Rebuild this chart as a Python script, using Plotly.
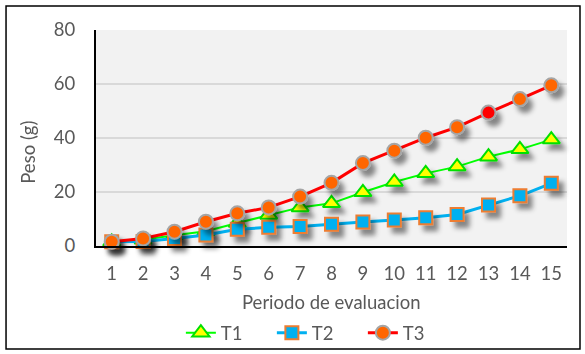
import plotly.graph_objects as go

periods = list(range(1, 16))
t1 = [1.5, 2.3, 4.0, 5.5, 8.5, 11.5, 14.3, 15.8, 19.9, 23.7, 26.9, 29.4, 33.1, 35.8, 39.4]
t2 = [1.6, 1.7, 2.8, 4.1, 6.2, 6.9, 7.2, 8.1, 8.9, 9.6, 10.5, 11.7, 15.2, 18.6, 23.2]
t3 = [1.6, 2.8, 5.3, 9.0, 12.1, 14.3, 18.3, 23.4, 30.7, 35.3, 40.1, 44.0, 49.4, 54.4, 59.5]
y_ticks = [0, 20, 40, 60, 80]

FONT = "Lato"
GREY = "#595959"
FS = 18.5

t3_colors = ["#FF6600"] * len(t3)
t3_colors[12] = "#FF0000"

fig = go.Figure()
fig.add_trace(go.Scatter(
    x=periods, y=t1, name="T1", mode="lines+markers",
    line=dict(color="#00FF00", width=2),
    marker=dict(symbol="triangle-up", size=15, color="#FFFF00",
                line=dict(color="#00E000", width=2)),
    cliponaxis=False))
fig.add_trace(go.Scatter(
    x=periods, y=t2, name="T2", mode="lines+markers",
    line=dict(color="#00B0F0", width=3),
    marker=dict(symbol="square", size=13, color="#00B0F0",
                line=dict(color="#ED7D31", width=2)),
    cliponaxis=False))
fig.add_trace(go.Scatter(
    x=periods, y=t3, name="T3", mode="lines+markers",
    line=dict(color="#FF0000", width=3),
    marker=dict(symbol="circle", size=14, color=t3_colors,
                line=dict(color="#A5A5A5", width=2)),
    cliponaxis=False))

fig.update_layout(
    width=585, height=354,
    margin=dict(l=96, r=18, t=30, b=108, autoexpand=False),
    paper_bgcolor="white", plot_bgcolor="#F2F2F2",
    font=dict(family=FONT, size=FS, color=GREY),
    showlegend=True,
    legend=dict(orientation="h", x=0.47, xanchor="center",
                yref="container", y=0.059, yanchor="middle",
                font=dict(size=FS, color=GREY), bgcolor="rgba(0,0,0,0)",
                entrywidth=46, tracegroupgap=0),
)
fig.update_xaxes(
    type="linear", range=[0.5, 15.5], tickmode="array", tickvals=periods,
    ticktext=[str(p) for p in periods],
    showgrid=False, zeroline=False, showline=True, linecolor="black", linewidth=2,
    ticks="", ticklabelstandoff=10, tickfont=dict(size=FS, color=GREY))
fig.update_yaxes(
    range=[0, 80], tickmode="array", tickvals=y_ticks,
    showgrid=True, gridcolor="#D9D9D9", gridwidth=1.5, zeroline=False,
    showline=True, linecolor="black", linewidth=2,
    ticks="", ticklabelstandoff=15, tickfont=dict(size=FS, color=GREY))

fig.add_annotation(text="Periodo de evaluacion", xref="paper", yref="paper",
                   x=0.5, y=-0.259, xanchor="center", yanchor="middle",
                   showarrow=False, font=dict(size=FS, color=GREY))
fig.add_annotation(text="Peso (g)", xref="paper", yref="paper",
                   x=-0.145, y=0.435, xanchor="center", yanchor="middle",
                   textangle=-90, showarrow=False, font=dict(size=FS, color=GREY))

fig.add_shape(type="rect", xref="paper", yref="paper",
              x0=-0.191, x1=1.0276, y0=-0.477, y1=1.111,
              line=dict(color="black", width=1.5), layer="above")

post = """
document.body.style.margin='0px';
var gd = document.getElementById('{plot_id}');
function applyShadow(){
  var svg = gd.querySelector('svg.main-svg');
  if(!svg) return;
  var ns='http://www.w3.org/2000/svg';
  if(!document.getElementById('shd')){
    var defs = svg.querySelector('defs');
    if(!defs){defs=document.createElementNS(ns,'defs'); svg.insertBefore(defs, svg.firstChild);}
    var f=document.createElementNS(ns,'filter');
    f.setAttribute('id','shd'); f.setAttribute('x','-50%'); f.setAttribute('y','-50%');
    f.setAttribute('width','200%'); f.setAttribute('height','200%');
    var ds=document.createElementNS(ns,'feDropShadow');
    ds.setAttribute('dx','5'); ds.setAttribute('dy','6'); ds.setAttribute('stdDeviation','2.5');
    ds.setAttribute('flood-color','#000'); ds.setAttribute('flood-opacity','0.45');
    f.appendChild(ds); defs.appendChild(f);
  }
  gd.querySelectorAll('.scatterlayer .trace .points').forEach(function(g){g.setAttribute('filter','url(#shd)');});
}
applyShadow();
setTimeout(applyShadow, 50);
setTimeout(applyShadow, 300);
if(gd.on){gd.on('plotly_afterplot', applyShadow);}
"""

fig.write_html("out.html", post_script=post, config={"displayModeBar": False})
